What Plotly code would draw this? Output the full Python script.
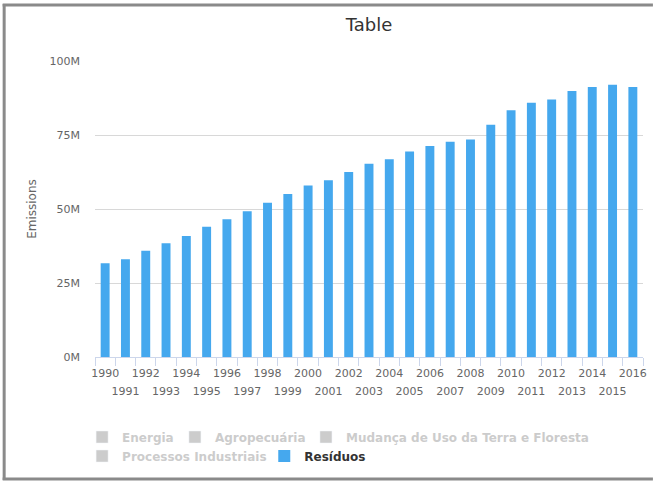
import plotly.graph_objects as go

years = [str(y) for y in range(1990, 2017)]
residuos = [31.7, 33.0, 35.9, 38.4, 40.9, 44.0, 46.5, 49.2, 52.1, 55.1, 57.9, 59.7,
            62.5, 65.3, 66.8, 69.4, 71.3, 72.7, 73.5, 78.5, 83.4, 85.9, 87.0, 89.9,
            91.2, 92.0, 91.2]
residuos_vals = [v * 1e6 for v in residuos]
hidden_series = ["Energia", "Agropecuária", "Mudança de Uso da Terra e Floresta",
                 "Processos Industriais"]
even_text = [y if i % 2 == 0 else "" for i, y in enumerate(years)]
odd_text = [y if i % 2 == 1 else "" for i, y in enumerate(years)]
y_ticks = [0, 25e6, 50e6, 75e6, 100e6]
y_tick_text = ["0M", "25M", "50M", "75M", "100M"]

W, H = 657, 481
L, R, T, B = 95, 10, 61, 124
pw, ph = W - L - R, H - T - B


def px(x):
    return (x - L) / pw


def py(y):
    return (H - B - y) / ph


legend_ids = ["legend", "legend2", "legend3", "legend4", "legend5"]

fig = go.Figure()
for name, lid in zip(hidden_series, legend_ids[:4]):
    fig.add_trace(go.Bar(x=years, y=[None] * len(years),
                         name="<span style='color:#999999'><b>" + name + "</b></span>",
                         marker_color="#999999", visible="legendonly", legend=lid))
fig.add_trace(go.Bar(x=years, y=residuos_vals, name="<b>Resíduos</b>",
                     marker=dict(color="#45a8ee", line_width=0), legend=legend_ids[4]))
# carrier for the second (staggered) row of year labels
fig.add_trace(go.Scatter(x=years, y=[None] * len(years), xaxis="x2", showlegend=False,
                         hoverinfo="skip", mode="markers"))

font = "DejaVu Sans, Lucida Grande, Arial, sans-serif"
leg_common = dict(orientation="h", xanchor="left", yanchor="middle",
                  font=dict(size=12, color="#333333", family=font),
                  itemwidth=30, traceorder="normal", bgcolor="rgba(0,0,0,0)",
                  itemclick=False, itemdoubleclick=False)
leg_pos = [(82, 437), (175.5, 437), (307.5, 437), (82, 456), (265.5, 456)]

fig.update_layout(
    width=W, height=H,
    margin=dict(l=L, r=R, t=T, b=B, pad=0),
    paper_bgcolor="white", plot_bgcolor="white",
    font=dict(family=font, color="#666666", size=11),
    title=dict(text="Table", x=0.5, xref="paper", xanchor="center",
               y=1 - 25 / H, yanchor="middle",
               font=dict(size=18, color="#333333", family=font)),
    bargap=0.56,
    showlegend=True,
    hovermode=False,
    xaxis=dict(type="category", categoryorder="array", categoryarray=years,
               tickmode="array", tickvals=years, ticktext=even_text,
               tickangle=0, tickson="boundaries", ticks="outside", ticklen=8,
               tickcolor="#ccd6eb", showline=True, linecolor="#ccd6eb", linewidth=1,
               showgrid=False, ticklabelstandoff=6,
               tickfont=dict(size=11, color="#666666"), fixedrange=True,
               range=[-0.5, 26.5]),
    xaxis2=dict(type="category", categoryorder="array", categoryarray=years,
                overlaying="x", anchor="y", side="bottom", range=[-0.5, 26.5],
                tickmode="array", tickvals=years, ticktext=odd_text, tickangle=0,
                ticks="", showline=False, showgrid=False, ticklabelstandoff=26,
                tickfont=dict(size=11, color="#666666"), fixedrange=True),
    yaxis=dict(range=[0, 100e6], tickvals=y_ticks, ticktext=y_tick_text,
               showgrid=True, gridcolor="#d8d8d8", gridwidth=1, zeroline=False,
               showline=False, ticks="", ticklabelstandoff=14,
               tickfont=dict(size=11, color="#666666"),
               title=dict(text="Emissions", font=dict(size=12, color="#666666"), standoff=10),
               fixedrange=True),
    shapes=[
        dict(type="line", xref="paper", yref="paper", x0=px(2), x1=px(657), y0=py(5), y1=py(5),
             line=dict(color="#8a8a8a", width=3)),
        dict(type="line", xref="paper", yref="paper", x0=px(3.5), x1=px(3.5), y0=py(4), y1=py(480),
             line=dict(color="#8a8a8a", width=3)),
        dict(type="line", xref="paper", yref="paper", x0=px(2), x1=px(657), y0=py(479), y1=py(479),
             line=dict(color="#8a8a8a", width=3)),
    ],
)
for lid, (lx, ly) in zip(legend_ids, leg_pos):
    fig.update_layout({lid: dict(x=px(lx), y=py(ly), **leg_common)})

fig.write_html("out.html", config={"displayModeBar": False},
               post_script="document.body.style.margin='0';document.body.style.overflow='hidden';")
